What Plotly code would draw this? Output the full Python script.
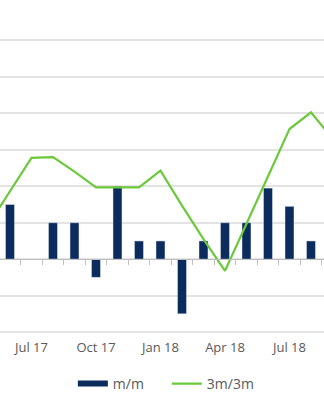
import plotly.graph_objects as go

# Data (months May 17 .. Sep 18); values in gridline units
months = ["May 17", "Jun 17", "Jul 17", "Aug 17", "Sep 17", "Oct 17", "Nov 17", "Dec 17",
          "Jan 18", "Feb 18", "Mar 18", "Apr 18", "May 18", "Jun 18", "Jul 18", "Aug 18", "Sep 18"]
mm = [None, 1.5, 0.0, 1.0, 1.0, -0.5, 2.0, 0.5, 0.5, -1.5, 0.5, 1.0, 1.0, 1.95, 1.45, 0.5, None]
m3 = [0.95, 1.85, 2.78, 2.8, 2.4, 1.97, 1.97, 1.97, 2.43, 1.47, 0.55, -0.32, 0.97, 2.27, 3.57, 4.03, 3.3]
label_months = ["Jul 17", "Oct 17", "Jan 18", "Apr 18", "Jul 18"]

idx = list(range(-1, len(months) - 1))  # Jun 17 -> 0
label_pos = [idx[months.index(m)] for m in label_months]
boundaries = [i + 0.5 for i in idx]

NAVY = "#0c2c5e"
GREEN = "#6cc93c"
GREY_TXT = "#595959"

xr = [-0.465, -0.465 + 324 / 21.5]
yr = [-2.081, 6.919]

fig = go.Figure()
fig.add_trace(go.Bar(x=idx, y=mm, marker_color=NAVY, showlegend=False, name="m/m"))
fig.add_trace(go.Scatter(x=idx, y=m3, mode="lines", line=dict(color=GREEN, width=2.2),
                         name="3m/3m", showlegend=False, cliponaxis=True))
# legend entries
fig.add_trace(go.Scatter(x=[None], y=[None], mode="lines", line=dict(color=NAVY, width=6), name="m/m"))
fig.add_trace(go.Scatter(x=[None], y=[None], mode="lines", line=dict(color=GREEN, width=2.2), name="3m/3m"))

zero_pos = (0 - yr[0]) / (yr[1] - yr[0])

fig.update_layout(
    width=324, height=400,
    margin=dict(l=0, r=0, t=7, b=60),
    paper_bgcolor="white", plot_bgcolor="white",
    font=dict(family="Open Sans", size=13, color=GREY_TXT),
    bargap=0.58,
    showlegend=True,
    legend=dict(orientation="h", x=0.515, xanchor="center", y=-0.150, yanchor="middle",
                font=dict(size=14, color=GREY_TXT), entrywidth=49, entrywidthmode="pixels"),
    xaxis=dict(range=xr, tickvals=label_pos, ticktext=label_months, showgrid=False,
               zeroline=False, showline=False, ticks="", ticklabelstandoff=3,
               tickfont=dict(size=13, color=GREY_TXT)),
    xaxis2=dict(range=xr, overlaying="x", anchor="free", position=zero_pos, side="bottom",
                showline=True, linecolor="#bfbfbf", linewidth=1, ticks="outside", ticklen=5,
                tickcolor="#bfbfbf", tickvals=boundaries, showticklabels=False, showgrid=False,
                zeroline=False),
    yaxis=dict(range=yr, dtick=1, showgrid=True, gridcolor="#e3e3e3", gridwidth=1.5,
               zeroline=False, showticklabels=False, ticks=""),
)
# dummy trace to activate xaxis2
fig.add_trace(go.Scatter(x=[None], y=[None], xaxis="x2", showlegend=False))

fig.write_html("out.html")
